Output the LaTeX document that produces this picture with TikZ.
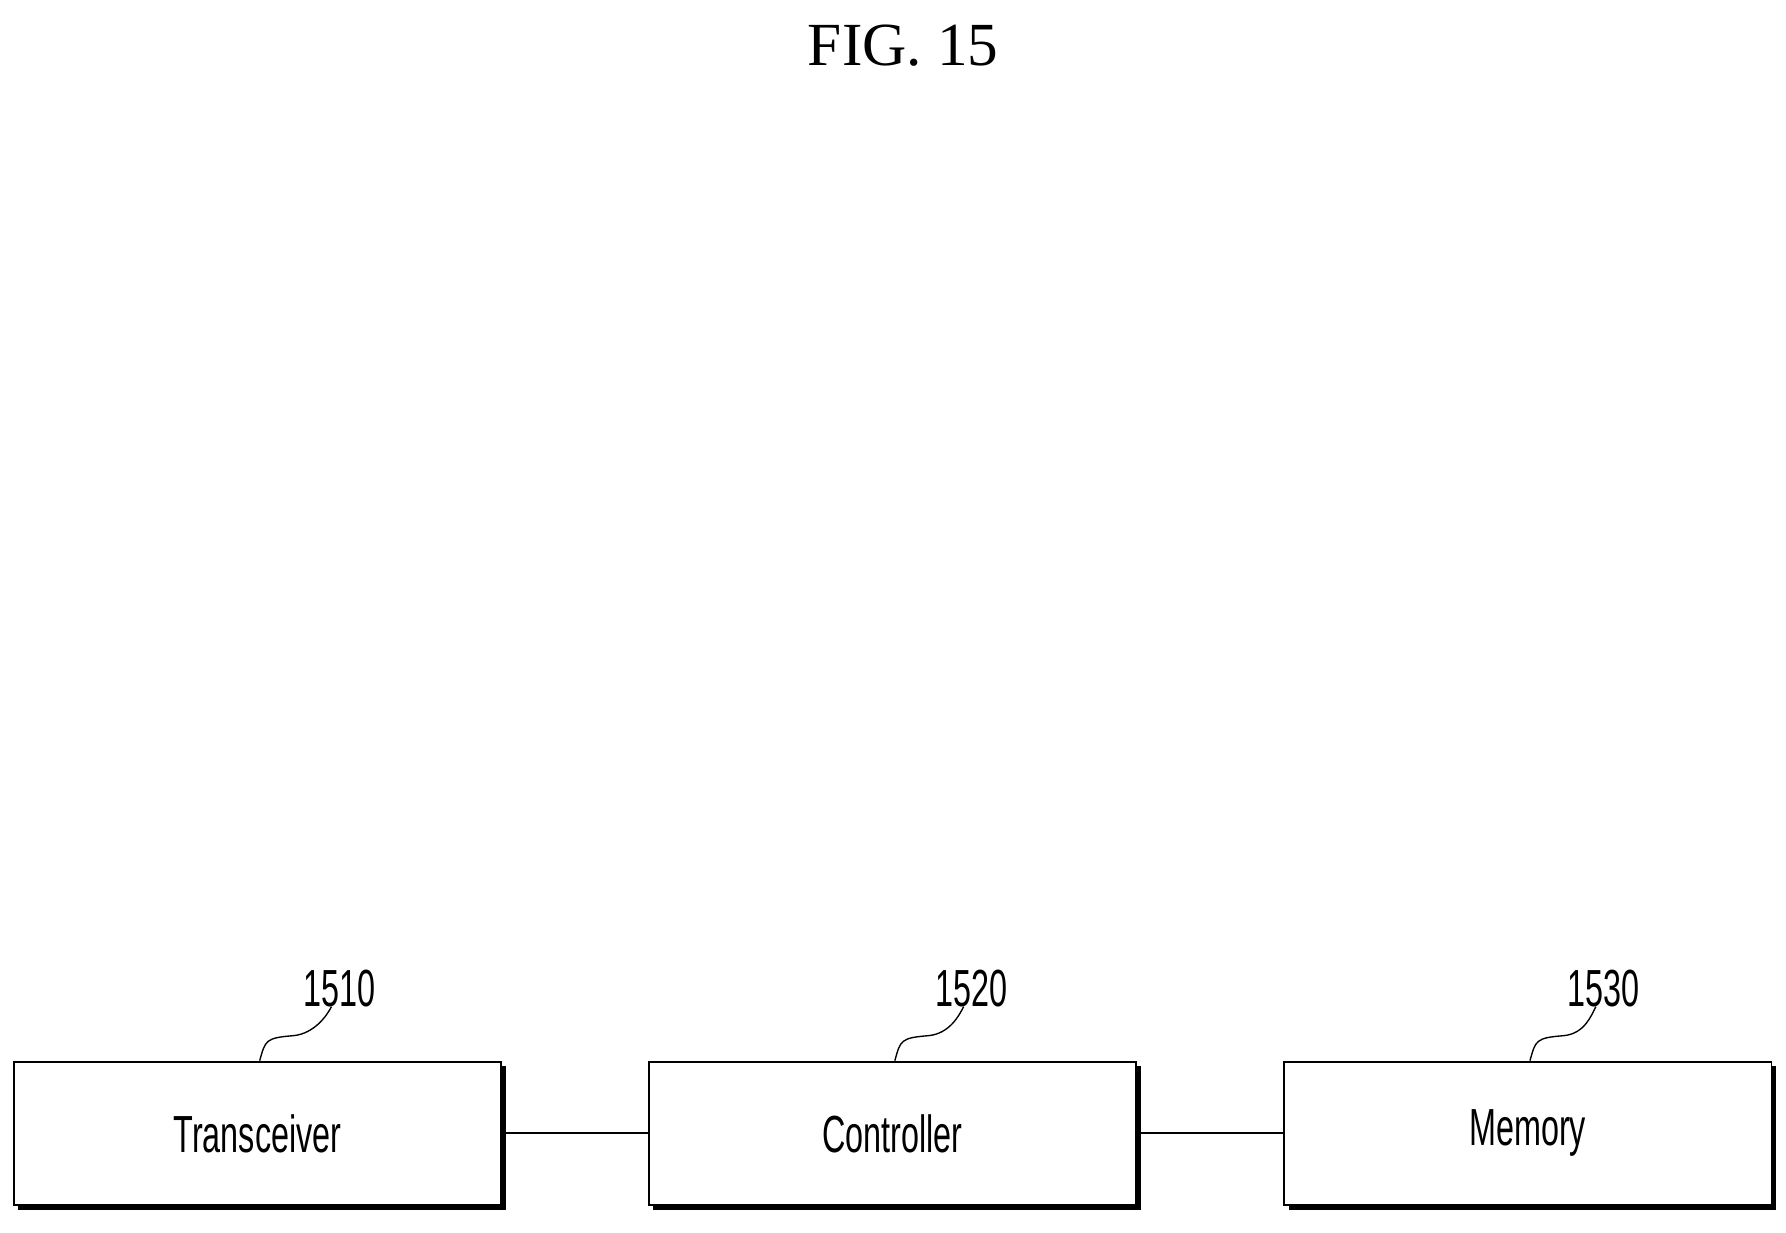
\documentclass[tikz,border=0pt]{standalone}
\usepackage{fontspec}
\setmainfont{Liberation Serif}
\newfontfamily\blockfont[FakeStretch=0.62]{Liberation Sans}
\usetikzlibrary{positioning,shadows}

\tikzset{
  block/.style={draw, line width=1.6bp, fill=white, minimum width=428bp, minimum height=126bp,
    font=\blockfont\fontsize{46}{50}\selectfont,
    drop shadow={shadow xshift=4bp, shadow yshift=-4bp, fill=black, opacity=1}},
  reflabel/.style={font=\blockfont\fontsize{46}{50}\selectfont},
  link/.style={line width=1.6bp}
}

\begin{document}
\begin{tikzpicture}[x=1bp,y=-1bp]
\useasboundingbox (0,0) rectangle (1568,1082);
\node[font=\fontsize{54}{60}\selectfont] (title) at (793,40) {FIG. 15};

\node[block] (trx) at (226,995) {Transceiver};
\node[block, right=128bp of trx] (ctrl) {Controller};
\node[block, right=128bp of ctrl] (mem) {Memory};

\draw[link] (trx) -- (ctrl);
\draw[link] (ctrl) -- (mem);

% reference numerals with leaders
\node[reflabel] (l1510) at (298,868) {1510};
\node[reflabel] (l1520) at (853,868) {1520};
\node[reflabel] (l1530) at (1408,868) {1530};
\foreach \b/\l in {trx/l1510, ctrl/l1520, mem/l1530}
  \draw[line width=1.2bp] ([xshift=2bp]\b.north) .. controls +(5,-18) and +(-25,2) .. +(30,-22)
     .. controls +(18,-2) and +(-4,8) .. ([xshift=-7bp,yshift=4bp]\l.south);
\end{tikzpicture}
\end{document}
